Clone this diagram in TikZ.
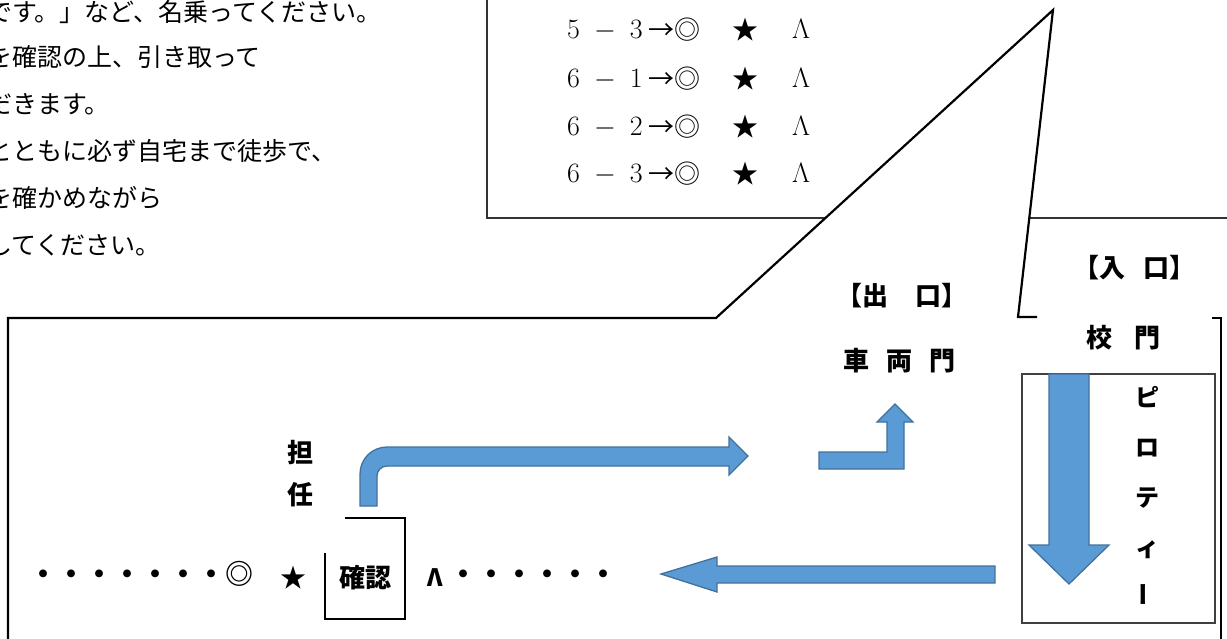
\RequirePackage{fix-cm}
\documentclass[tikz,border=0pt]{standalone}
\usepackage{fontspec}
\usepackage{graphicx}
\newfontfamily\jp{Noto Sans CJK JP}
\definecolor{arrowblue}{HTML}{5B9BD5}
\definecolor{arrowedge}{HTML}{41719C}
\begin{document}
\begin{tikzpicture}[x=1pt,y=-1pt,
  blockarrow/.style={fill=arrowblue,draw=arrowedge,line width=1.3pt,line join=miter},
  body/.style={font=\jp\fontsize{25}{25}\selectfont,anchor=base west,inner sep=0pt},
  lbl/.style={font=\jp\bfseries\fontsize{26}{26}\selectfont,inner sep=0pt},
  rowmath/.style={font=\fontsize{28}{28}\selectfont,inner sep=0pt,anchor=base},
  rowjp/.style={font=\jp\fontsize{26}{26}\selectfont,inner sep=0pt,anchor=base},
  dotrow/.style={font=\jp\bfseries\fontsize{28}{28}\selectfont,inner sep=0pt,anchor=base west},
]
\useasboundingbox (0,0) rectangle (1227,638);
\clip (0,0) rectangle (1227,638);

% ---- top-left paragraph (cut at the left edge)
\node[body] (t1) at (-13,21.5)  {です。」など、名乗ってください。};
\node[body] (t2) at (-13,66.5)  {を確認の上、引き取って};
\node[body] (t3) at (-13,113.5) {だきます。};
\node[body] (t4) at (-13,160.5) {とともに必ず自宅まで徒歩で、};
\node[body] (t5) at (-13,207.5) {を確かめながら};
\node[body] (t6) at (-13,254.5) {してください。};

% ---- top box
\draw[line width=1.3pt,draw=black!80] (487,-5) -- (487,218) -- (1235,218);
\foreach \y/\a/\n [count=\i] in {29/5/3,78/6/1,126/6/2,173/6/3}{
  \node[rowmath,anchor=base west] (ra\i) at (567,\y+9.3) {$\a\;-\;\n$};
  \node[rowjp,anchor=base west] (rb\i) at (648,\y+10) {→◎};
  \node[rowjp] (rc\i) at (745,\y+10) {★};
  \node[rowmath] (rd\i) at (801,\y+9.6) {$\Lambda$};
}

% ---- callout
\fill[white] (8,318) -- (716,318) -- (1053,10) -- (1018,317) -- (1221,317) -- (1221,645) -- (8,645) -- cycle;
\draw[line width=2.2pt,line join=miter] (8,645) -- (8,318) -- (716,318) -- (1053,10) -- (1018,317) -- (1037,317);
\draw[line width=2.2pt] (1212,318) -- (1221,318) -- (1221,645);

% ---- labels
\node[lbl,anchor=base west] (exit) at (836,305) {【出\hspace{27pt}口】};
\node[lbl,anchor=base west] (entr) at (1073,277) {【入\hspace{18pt}口】};
\node[lbl,anchor=base west] (car)  at (843,370) {車\hspace{17pt}両\hspace{17pt}門};
\node[lbl,anchor=base west] (gate) at (1086,347) {校\hspace{22pt}門};
\node[lbl,anchor=north,align=center,font=\jp\bfseries\fontsize{26}{42}\selectfont] (tan) at (300,440) {担\\任};

% ---- pilotis box
\draw[line width=1.2pt,draw=black!75] (1022,374) rectangle (1215,623);
\node[lbl,anchor=north,align=center,font=\jp\bfseries\fontsize{24}{50}\selectfont] (pil) at (1147,386)
  {ピ\\ロ\\テ\\ィ\\\rotatebox{90}{ー}};

% ---- block arrows
\path[blockarrow] (1049,374) -- (1089,374) -- (1089,545) -- (1109,545) -- (1069,584) -- (1029,545) -- (1049,545) -- cycle;
\path[blockarrow] (995,566) -- (717,566) -- (717,557) -- (661,574) -- (717,592) -- (717,583) -- (995,583) -- cycle;
\path[blockarrow] (819,452) -- (887,452) -- (887,422) -- (877,422) -- (895,404) -- (913,422) -- (904,422) -- (904,469) -- (819,469) -- cycle;
\path[blockarrow] (360,506) -- (360,474) .. controls (360,459) and (372,447) .. (387,447) -- (729,447) -- (729,437) -- (748,456) -- (729,475) -- (729,466) -- (387,466) .. controls (381.5,466) and (377,470.5) .. (377,476) -- (377,506) -- cycle;

% ---- check box
\draw[line width=1.8pt] (345,518) -- (405,518) -- (405,619) -- (325,619) -- (325,553);
\node[lbl,anchor=base] (chk) at (365,587) {確認};

% ---- bottom row
\node[dotrow] (dl) at (29,584.6) {・・・・・・・◎};
\node[rowjp] (star) at (293,587) {★};
\node[lbl,anchor=base,font=\jp\bfseries\fontsize{24}{24}\selectfont] (lam) at (435,586) {Λ};
\node[dotrow] (dr) at (449,584.6) {・・・・・・};
\end{tikzpicture}
\end{document}
